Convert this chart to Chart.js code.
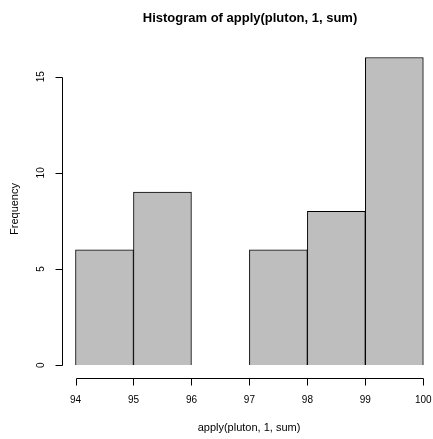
<!DOCTYPE html>
<html>
<head>
<meta charset="utf-8">
<script src="https://cdn.jsdelivr.net/npm/chart.js@4"></script>
<style>
html,body{margin:0;padding:0;background:#fff;}
#wrap{width:433px;height:439px;position:relative;}
</style>
</head>
<body>
<div id="wrap"><canvas id="c" width="433" height="439"></canvas></div>
<script>
// Histogram bins (midpoints) and counts
const binMids = [94.5, 95.5, 96.5, 97.5, 98.5, 99.5];
const counts = [6, 9, 0, 6, 8, 16];
const xTicks = [94, 95, 96, 97, 98, 99, 100];
const yTicks = [0, 5, 10, 15];
const titleText = 'Histogram of apply(pluton, 1, sum)';
const xLabel = 'apply(pluton, 1, sum)';
const yLabel = 'Frequency';

const FONT = '"Liberation Sans", Arial, Helvetica, sans-serif';

const rAxes = {
  id: 'rAxes',
  afterDraw(chart) {
    const ctx = chart.ctx;
    const xs = chart.scales.x, ys = chart.scales.y;
    const ca = chart.chartArea;
    ctx.save();
    ctx.strokeStyle = '#000';
    ctx.fillStyle = '#000';
    ctx.lineWidth = 1;
    // x axis
    const yAx = Math.round(ca.bottom) + 0.5;
    const x0 = Math.round(xs.getPixelForValue(xTicks[0])) + 0.5;
    const x1 = Math.round(xs.getPixelForValue(xTicks[xTicks.length - 1])) + 0.5;
    ctx.beginPath();
    ctx.moveTo(x0, yAx); ctx.lineTo(x1, yAx);
    xTicks.forEach(v => {
      const px = Math.round(xs.getPixelForValue(v)) + 0.5;
      ctx.moveTo(px, yAx); ctx.lineTo(px, yAx + 7);
    });
    ctx.stroke();
    ctx.font = '10px ' + FONT;
    ctx.textAlign = 'center';
    ctx.textBaseline = 'middle';
    xTicks.forEach(v => {
      ctx.fillText(String(v), xs.getPixelForValue(v), yAx + 22);
    });
    // y axis
    const xAx = Math.round(ca.left) + 0.5;
    const y0 = Math.round(ys.getPixelForValue(yTicks[0])) + 0.5;
    const y1 = Math.round(ys.getPixelForValue(yTicks[yTicks.length - 1])) + 0.5;
    ctx.beginPath();
    ctx.moveTo(xAx, y0); ctx.lineTo(xAx, y1);
    yTicks.forEach(v => {
      const py = Math.round(ys.getPixelForValue(v)) + 0.5;
      ctx.moveTo(xAx, py); ctx.lineTo(xAx - 7, py);
    });
    ctx.stroke();
    yTicks.forEach(v => {
      ctx.save();
      ctx.translate(xAx - 21, ys.getPixelForValue(v));
      ctx.rotate(-Math.PI / 2);
      ctx.fillText(String(v), 0, 0);
      ctx.restore();
    });
    // axis titles
    ctx.font = '11px ' + FONT;
    ctx.fillText(xLabel, 249, 428);
    ctx.save();
    ctx.translate(15, 209);
    ctx.rotate(-Math.PI / 2);
    ctx.fillText(yLabel, 0, 0);
    ctx.restore();
    // main title
    ctx.font = 'bold 13px ' + FONT;
    ctx.fillText(titleText, 250, 18);
    ctx.restore();
  }
};

new Chart(document.getElementById('c'), {
  type: 'bar',
  data: {
    datasets: [{
      data: binMids.map((m, i) => ({ x: m, y: counts[i] })),
      backgroundColor: '#BEBEBE',
      borderColor: '#000',
      borderWidth: 1,
      borderSkipped: 'bottom',
      barPercentage: 1,
      categoryPercentage: 1
    }]
  },
  options: {
    responsive: false,
    animation: false,
    devicePixelRatio: 1,
    layout: { padding: { left: 62, right: 0, top: 44, bottom: 61 } },
    plugins: { legend: { display: false }, tooltip: { enabled: false }, title: { display: false } },
    scales: {
      x: { type: 'linear', display: false, min: 93.767, max: 100.167, offset: false },
      y: { display: false, min: -0.67, max: 16.7 }
    }
  },
  plugins: [rAxes]
});
</script>
</body>
</html>
